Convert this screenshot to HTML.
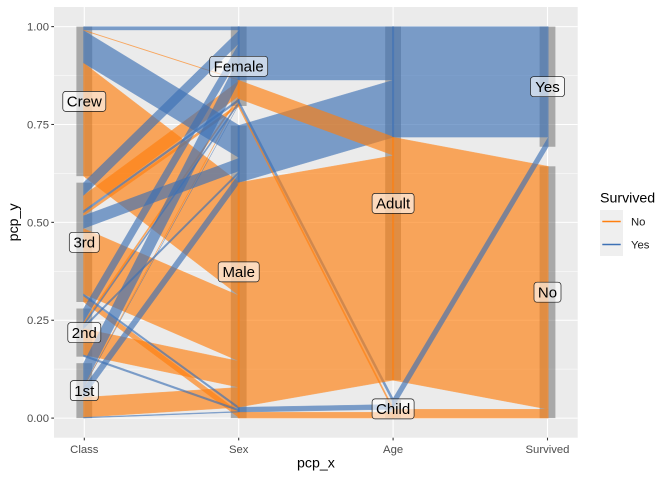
<!DOCTYPE html>
<html><head><meta charset="utf-8"><style>
html,body{margin:0;padding:0;background:#fff;}
svg{display:block;font-family:"Liberation Sans",Arial,sans-serif;}
.o{fill:#FF7F0E;stroke:#FF7F0E;stroke-width:.4;opacity:.65}
.b{fill:#3D71B5;stroke:#3D71B5;stroke-width:.4;opacity:.65}
.bx{fill:#666;opacity:.5}
.lb{fill:#fff;fill-opacity:.6;stroke:#1a1a1a;stroke-width:.7}
.lt{font-size:15px;fill:#000;text-anchor:middle}
.tk{font-size:11.3px;fill:#4D4D4D}
</style></head><body>
<svg width="672" height="480" viewBox="0 0 672 480" xmlns="http://www.w3.org/2000/svg">
<rect x="0" y="0" width="672" height="480" fill="#fff"/>
<rect x="54" y="7" width="523.7" height="430.7" fill="#EBEBEB"/>
<g stroke="#fff" stroke-width="0.53">
<line x1="54" x2="577.7" y1="369.16" y2="369.16"/>
<line x1="54" x2="577.7" y1="271.29" y2="271.29"/>
<line x1="54" x2="577.7" y1="173.41" y2="173.41"/>
<line x1="54" x2="577.7" y1="75.54" y2="75.54"/>
</g>
<g stroke="#fff" stroke-width="1.07">
<line x1="54" x2="577.7" y1="418.1" y2="418.1"/>
<line x1="54" x2="577.7" y1="320.23" y2="320.23"/>
<line x1="54" x2="577.7" y1="222.35" y2="222.35"/>
<line x1="54" x2="577.7" y1="124.48" y2="124.48"/>
<line x1="54" x2="577.7" y1="26.6" y2="26.6"/>
<line x1="84.3" x2="84.3" y1="7" y2="437.7"/>
<line x1="238.7" x2="238.7" y1="7" y2="437.7"/>
<line x1="393.1" x2="393.1" y1="7" y2="437.7"/>
<line x1="547.5" x2="547.5" y1="7" y2="437.7"/>
</g>
<!-- boxes -->
<rect class="bx" x="76.4" y="363.18" width="15.8" height="54.92"/>
<rect class="bx" x="76.4" y="308.50" width="15.8" height="48.16"/>
<rect class="bx" x="76.4" y="182.67" width="15.8" height="119.30"/>
<rect class="bx" x="76.4" y="26.60" width="15.8" height="149.55"/>
<rect class="bx" x="230.8" y="125.60" width="15.8" height="292.50"/>
<rect class="bx" x="230.8" y="26.60" width="15.8" height="79.42"/>
<rect class="bx" x="385.2" y="399.68" width="15.8" height="18.42"/>
<rect class="bx" x="385.2" y="26.60" width="15.8" height="353.51"/>
<rect class="bx" x="539.6" y="166.32" width="15.8" height="251.78"/>
<rect class="bx" x="539.6" y="26.60" width="15.8" height="120.15"/>
<!-- segment 1: Class -> Sex -->
<polygon class="o" points="83.5,397.32 239.5,387.35 239.5,407.29 83.5,417.26"/>
<polygon class="o" points="83.5,386.84 239.5,97.74 239.5,98.42 83.5,387.52"/>
<polygon class="o" points="83.5,328.78 239.5,361.32 239.5,387.35 83.5,354.80"/>
<polygon class="o" points="83.5,322.02 239.5,95.54 239.5,97.74 83.5,324.21"/>
<polygon class="o" points="83.5,296.06 239.5,412.19 239.5,418.10 83.5,301.97"/>
<polygon class="o" points="83.5,228.47 239.5,295.93 239.5,361.32 83.5,293.86"/>
<polygon class="o" points="83.5,212.92 239.5,103.15 239.5,106.02 83.5,215.79"/>
<polygon class="o" points="83.5,195.52 239.5,80.51 239.5,95.54 83.5,210.55"/>
<polygon class="o" points="83.5,62.93 239.5,182.71 239.5,295.93 83.5,176.15"/>
<polygon class="o" points="83.5,29.98 239.5,80.00 239.5,80.51 83.5,30.49"/>
<polygon class="b" points="83.5,417.26 239.5,411.34 239.5,412.19 83.5,418.10"/>
<polygon class="b" points="83.5,387.68 239.5,173.08 239.5,182.71 83.5,397.32"/>
<polygon class="b" points="83.5,387.52 239.5,102.98 239.5,103.15 83.5,387.68"/>
<polygon class="b" points="83.5,363.18 239.5,56.34 239.5,80.00 83.5,386.84"/>
<polygon class="b" points="83.5,354.80 239.5,409.48 239.5,411.34 83.5,356.66"/>
<polygon class="b" points="83.5,326.41 239.5,170.71 239.5,173.08 83.5,328.78"/>
<polygon class="b" points="83.5,324.21 239.5,100.78 239.5,102.98 83.5,326.41"/>
<polygon class="b" points="83.5,308.50 239.5,42.82 239.5,56.34 83.5,322.02"/>
<polygon class="b" points="83.5,293.86 239.5,407.29 239.5,409.48 83.5,296.06"/>
<polygon class="b" points="83.5,215.79 239.5,158.04 239.5,170.71 83.5,228.47"/>
<polygon class="b" points="83.5,210.55 239.5,98.42 239.5,100.78 83.5,212.92"/>
<polygon class="b" points="83.5,182.67 239.5,29.98 239.5,42.82 83.5,195.52"/>
<polygon class="b" points="83.5,30.49 239.5,125.60 239.5,158.04 83.5,62.93"/>
<polygon class="b" points="83.5,26.60 239.5,26.60 239.5,29.98 83.5,29.98"/>
<!-- segment 2: Sex -> Age -->
<polygon class="b" points="237.9,26.60 393.9,26.60 393.9,80.00 237.9,80.00"/>
<polygon class="b" points="237.9,98.42 393.9,399.68 393.9,404.41 237.9,103.15"/>
<polygon class="b" points="237.9,125.60 393.9,80.00 393.9,137.11 237.9,182.71"/>
<polygon class="b" points="237.9,407.29 393.9,404.41 393.9,409.31 237.9,412.19"/>
<polygon class="o" points="237.9,80.00 393.9,137.11 393.9,155.53 237.9,98.42"/>
<polygon class="o" points="237.9,103.15 393.9,409.31 393.9,412.19 237.9,106.02"/>
<polygon class="o" points="237.9,182.71 393.9,155.53 393.9,380.11 237.9,407.29"/>
<polygon class="o" points="237.9,412.19 393.9,412.19 393.9,418.10 237.9,418.10"/>
<!-- segment 3: Age -> Survived -->
<polygon class="b" points="392.3,26.60 548.3,26.60 548.3,137.11 392.3,137.11"/>
<polygon class="o" points="392.3,137.11 548.3,166.32 548.3,409.31 392.3,380.11"/>
<polygon class="b" points="392.3,399.68 548.3,137.11 548.3,146.75 392.3,409.31"/>
<polygon class="o" points="392.3,409.31 548.3,409.31 548.3,418.10 392.3,418.10"/>
<!-- labels -->
<rect class="lb" x="70.3" y="380.64" width="28" height="20" rx="3"/><text class="lt" x="84.3" y="395.94">1st</text>
<rect class="lb" x="67.8" y="322.58" width="33" height="20" rx="3"/><text class="lt" x="84.3" y="337.88">2nd</text>
<rect class="lb" x="69.3" y="232.32" width="30" height="20" rx="3"/><text class="lt" x="84.3" y="247.62">3rd</text>
<rect class="lb" x="62.8" y="91.38" width="43" height="20" rx="3"/><text class="lt" x="84.3" y="106.68">Crew</text>
<rect class="lb" x="209.7" y="56.31" width="58" height="20" rx="3"/><text class="lt" x="238.7" y="71.61">Female</text>
<rect class="lb" x="218.2" y="261.85" width="41" height="20" rx="3"/><text class="lt" x="238.7" y="277.15">Male</text>
<rect class="lb" x="372.1" y="193.36" width="42" height="20" rx="3"/><text class="lt" x="393.1" y="208.66">Adult</text>
<rect class="lb" x="372.1" y="398.89" width="42" height="20" rx="3"/><text class="lt" x="393.1" y="414.19">Child</text>
<rect class="lb" x="530.5" y="76.68" width="34" height="20" rx="3"/><text class="lt" x="547.5" y="91.98">Yes</text>
<rect class="lb" x="534" y="282.21" width="27" height="20" rx="3"/><text class="lt" x="547.5" y="297.51">No</text>
<!-- ticks -->
<g stroke="#333" stroke-width="1.07">
<line x1="51.3" x2="54" y1="418.1" y2="418.1"/>
<line x1="51.3" x2="54" y1="320.23" y2="320.23"/>
<line x1="51.3" x2="54" y1="222.35" y2="222.35"/>
<line x1="51.3" x2="54" y1="124.48" y2="124.48"/>
<line x1="51.3" x2="54" y1="26.6" y2="26.6"/>
<line x1="84.3" x2="84.3" y1="437.7" y2="440.4"/>
<line x1="238.7" x2="238.7" y1="437.7" y2="440.4"/>
<line x1="393.1" x2="393.1" y1="437.7" y2="440.4"/>
<line x1="547.5" x2="547.5" y1="437.7" y2="440.4"/>
</g>
<g class="tk" text-anchor="end">
<text x="49" y="422.1">0.00</text>
<text x="49" y="324.2">0.25</text>
<text x="49" y="226.3">0.50</text>
<text x="49" y="128.5">0.75</text>
<text x="49" y="30.6">1.00</text>
</g>
<g class="tk" text-anchor="middle">
<text x="84.3" y="453">Class</text>
<text x="238.7" y="453">Sex</text>
<text x="393.1" y="453">Age</text>
<text x="547.5" y="453">Survived</text>
</g>
<text x="315.9" y="467.5" font-size="14.2" text-anchor="middle" fill="#000">pcp_x</text>
<text transform="translate(18,222.4) rotate(-90)" font-size="14.2" text-anchor="middle" fill="#000">pcp_y</text>
<!-- legend -->
<text x="600" y="202.5" font-size="14.2" fill="#000">Survived</text>
<rect x="600" y="210" width="23" height="46" fill="#EFEFEF"/>
<line x1="602.3" x2="620.7" y1="221.5" y2="221.5" stroke="#FF7F0E" stroke-width="1.4"/>
<line x1="602.3" x2="620.7" y1="244.5" y2="244.5" stroke="#3D71B5" stroke-width="1.4"/>
<text class="tk" x="631" y="225.5" fill="#000" style="fill:#1a1a1a">No</text>
<text class="tk" x="631" y="248.5" style="fill:#1a1a1a">Yes</text>
</svg>
</body></html>
